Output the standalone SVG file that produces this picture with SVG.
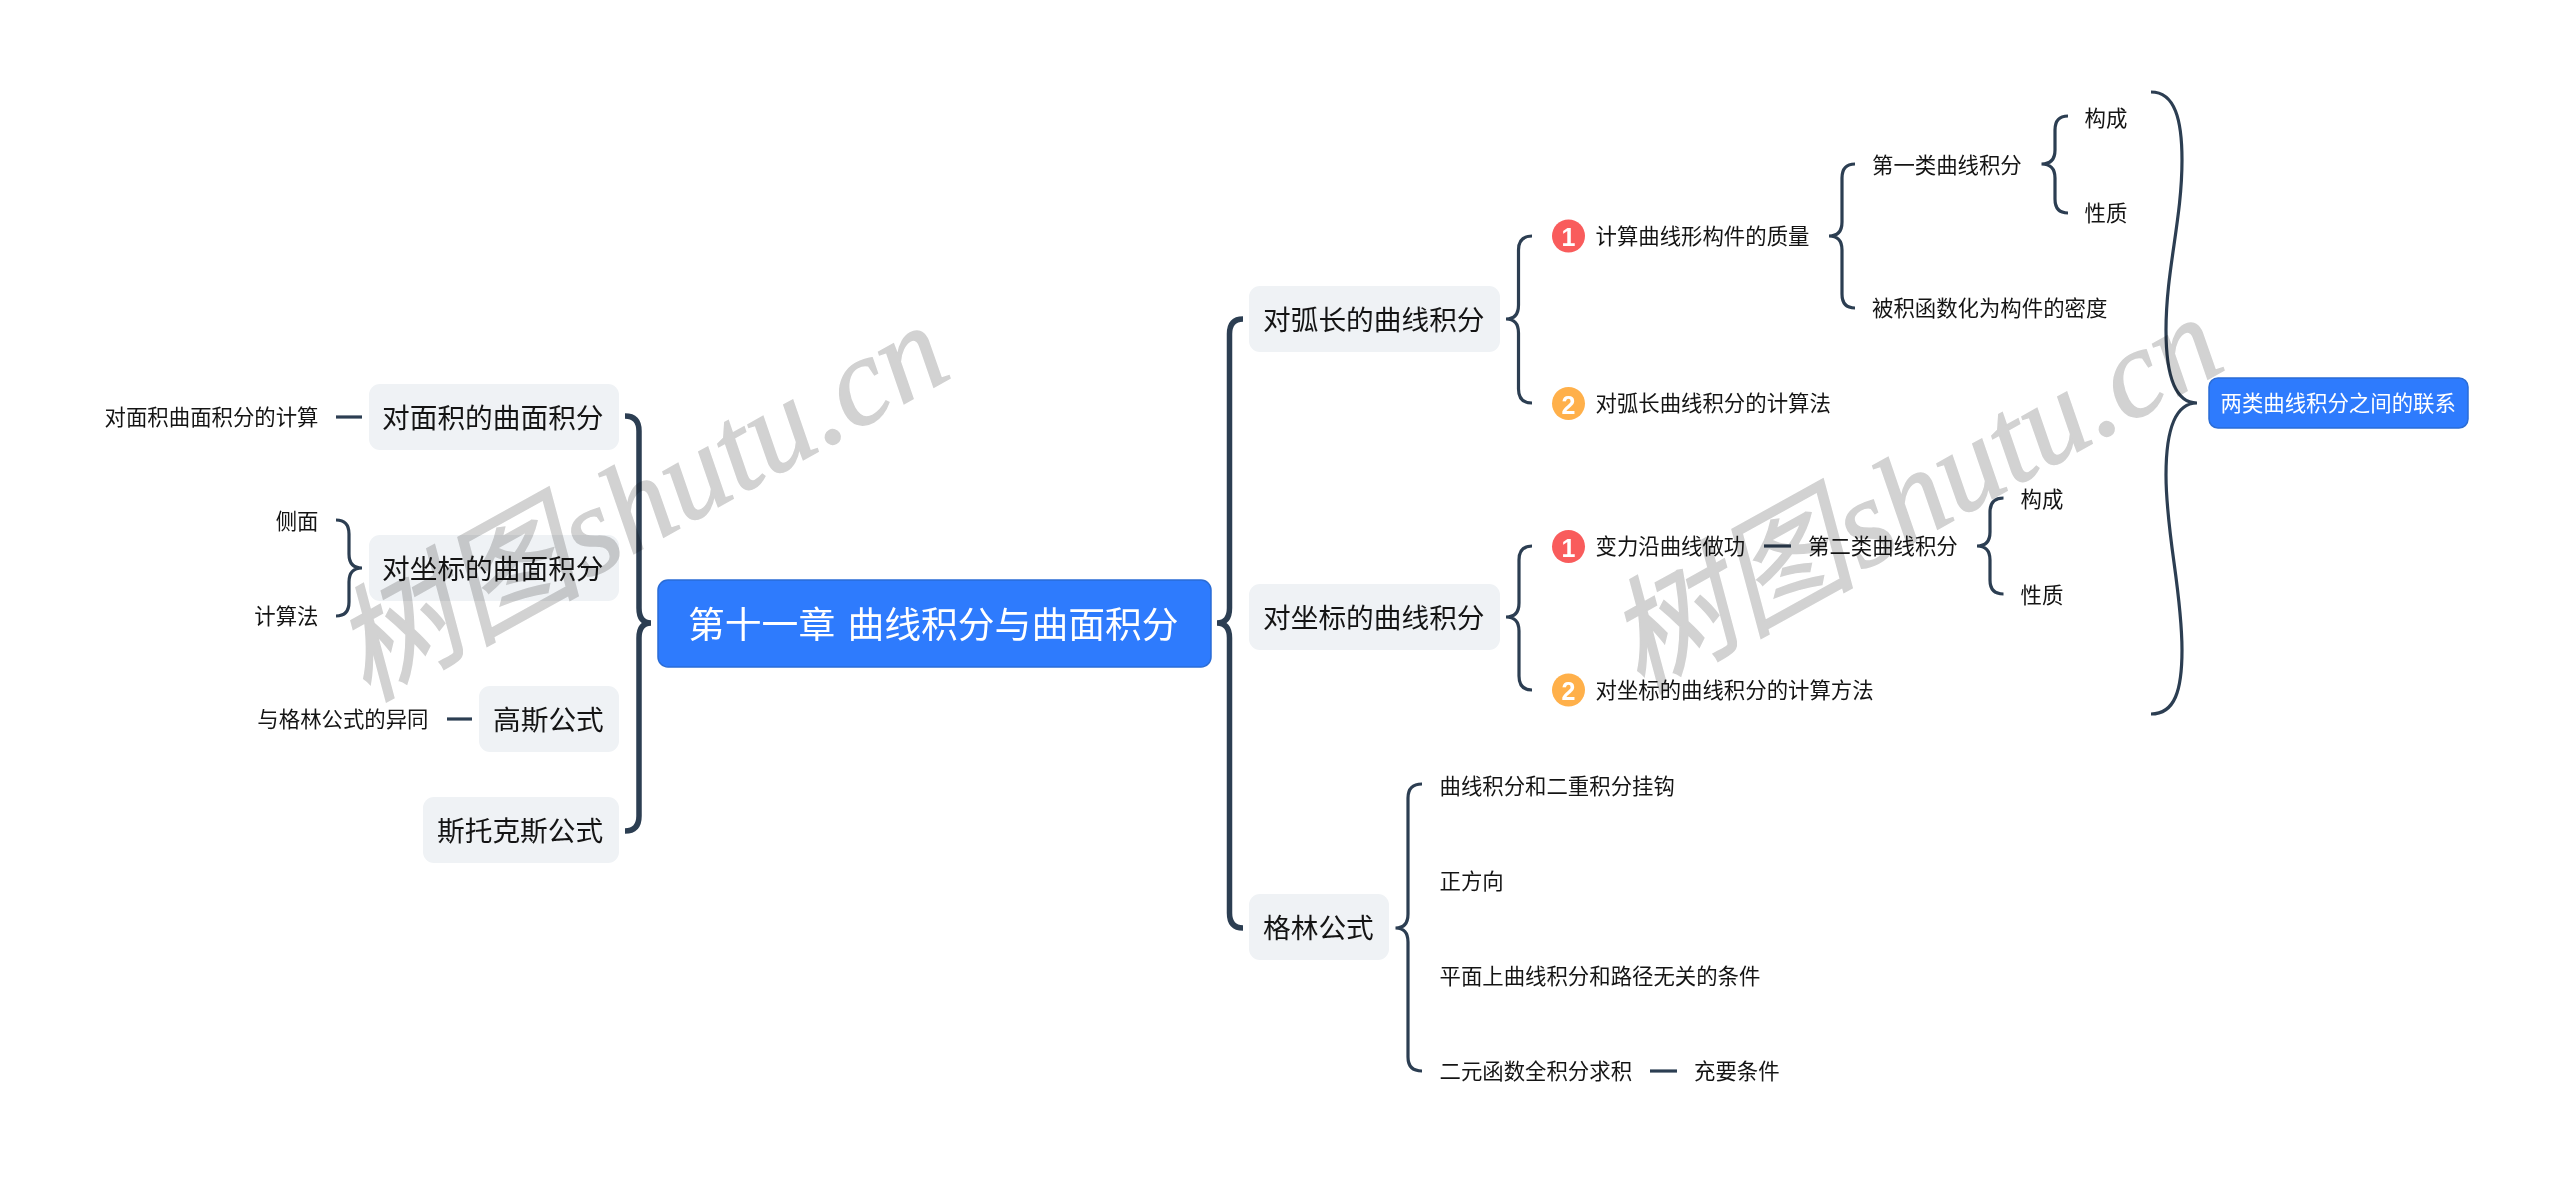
<svg xmlns="http://www.w3.org/2000/svg" width="2560" height="1187" viewBox="0 0 2560 1187">
<style>
text{font-family:"Noto Sans CJK SC","Noto Sans",sans-serif;fill:#141414;dominant-baseline:central;font-weight:400}
.s{font-size:21.4px;transform:translateY(-1.5px)}
.m{font-size:27.7px;transform:translateY(-1.5px)}
.r{font-size:36.8px;fill:#fff;word-spacing:4px;transform:translateY(-1.5px)}
.w{fill:#fff}
.e{text-anchor:end}
.n{fill:#eff2f5}
.b{fill:#2e7bfd;stroke:#2a6cd6;stroke-width:1.5}
.d{font-size:25px;font-weight:700;fill:#fff;text-anchor:middle;font-family:"Liberation Sans",sans-serif}
#connectors path{fill:none;stroke:#2c3e52;stroke-width:3.2;stroke-linecap:butt}
#connectors path.t{stroke-width:5.5}
.wm{font-family:"Liberation Serif","Noto Sans CJK SC",serif;font-size:125px;font-style:italic;fill:#d2d2d2;stroke:#d2d2d2;stroke-width:1.5;word-spacing:-28px;mix-blend-mode:multiply;dominant-baseline:alphabetic;font-weight:400}
</style>
<rect width="2560" height="1187" fill="#fff"/>
<g id="connectors">
<path class="t" d="M625 416Q639 416 639 431V608Q639 623 651 623Q639 623 639 638V816Q639 831 625 831"/>
<path class="t" d="M1243 319Q1229.500 319 1229.500 334V608Q1229.500 623 1217 623Q1229.500 623 1229.500 638V913Q1229.500 928 1243 928"/>
<path d="M336 417H362"/>
<path d="M336 520Q349 520 349 534V554Q349 568 362 568Q349 568 349 582V602Q349 616 336 616"/>
<path d="M447 719H472"/>
<path d="M1532 236Q1518.500 236 1518.500 250V305Q1518.500 319 1506 319Q1518.500 319 1518.500 333V389Q1518.500 403 1532 403"/>
<path d="M1855 164Q1842 164 1842 178V222Q1842 236 1829 236Q1842 236 1842 250V294Q1842 308 1855 308"/>
<path d="M2068 116Q2055 116 2055 130V150Q2055 164 2041.500 164Q2055 164 2055 178V199Q2055 213 2068 213"/>
<path d="M1532 546Q1519 546 1519 560V603Q1519 617 1506 617Q1519 617 1519 631V676Q1519 690 1532 690"/>
<path d="M1764 546H1791"/>
<path d="M2003.500 498Q1990 498 1990 512V532Q1990 546 1977 546Q1990 546 1990 560V580Q1990 594 2003.500 594"/>
<path d="M1422 784Q1408 784 1408 798V914Q1408 928 1395.500 928Q1408 928 1408 942V1057Q1408 1071 1422 1071"/>
<path d="M1650 1071H1677"/>
<path d="M2151 92C2175 92 2182 120 2182 160C2182 220 2166 270 2166 330C2166 375 2175 403 2197 403C2175 403 2166 430 2166 475C2166 535 2182 590 2182 650C2182 690 2175 714 2151 714"/>
</g>
<g id="root"><rect class="b" x="658" y="580" width="553" height="87" rx="10"/><text class="r" x="688" y="623">第十一章 曲线积分与曲面积分</text></g>
<g id="n-mj"><rect class="n" x="369" y="384" width="250" height="66" rx="11"/><text class="m" x="382" y="417">对面积的曲面积分</text></g>
<g id="n-zb"><rect class="n" x="369" y="535" width="250" height="66" rx="11"/><text class="m" x="382" y="568">对坐标的曲面积分</text></g>
<g id="n-gs"><rect class="n" x="479" y="686" width="140" height="66" rx="11"/><text class="m" x="493" y="719">高斯公式</text></g>
<g id="n-stk"><rect class="n" x="423" y="797" width="196" height="66" rx="11"/><text class="m" x="437" y="830">斯托克斯公式</text></g>
<g id="n-hc"><rect class="n" x="1249" y="286" width="251" height="66" rx="11"/><text class="m" x="1263" y="319">对弧长的曲线积分</text></g>
<g id="n-zq"><rect class="n" x="1249" y="584" width="251" height="66" rx="11"/><text class="m" x="1263" y="617">对坐标的曲线积分</text></g>
<g id="n-gl"><rect class="n" x="1249" y="894" width="140" height="66" rx="11"/><text class="m" x="1263" y="927">格林公式</text></g>
<g id="t-mjjs"><text class="s e" x="318.500" y="417">对面积曲面积分的计算</text></g>
<g id="t-cm"><text class="s e" x="318.500" y="521">侧面</text></g>
<g id="t-jsf"><text class="s e" x="318.500" y="616">计算法</text></g>
<g id="t-yt"><text class="s e" x="428.500" y="719">与格林公式的异同</text></g>
<g id="t-zl"><circle cx="1568.500" cy="236" r="16.500" fill="#f95c5c"/><text class="d" x="1568.500" y="237">1</text><text class="s" x="1595.500" y="236">计算曲线形构件的质量</text></g>
<g id="t-hcjs"><circle cx="1568.500" cy="403.500" r="16.500" fill="#ffb04a"/><text class="d" x="1568.500" y="404.500">2</text><text class="s" x="1595.500" y="403">对弧长曲线积分的计算法</text></g>
<g id="t-dyl"><text class="s" x="1872" y="165">第一类曲线积分</text></g>
<g id="t-bj"><text class="s" x="1872" y="308">被积函数化为构件的密度</text></g>
<g id="t-gc1"><text class="s" x="2084.500" y="118">构成</text></g>
<g id="t-xz1"><text class="s" x="2084.500" y="213">性质</text></g>
<g id="t-bl"><circle cx="1568.500" cy="546.500" r="16.500" fill="#f95c5c"/><text class="d" x="1568.500" y="547.500">1</text><text class="s" x="1595.500" y="546">变力沿曲线做功</text></g>
<g id="t-zbjs"><circle cx="1568.500" cy="690" r="16.500" fill="#ffb04a"/><text class="d" x="1568.500" y="691">2</text><text class="s" x="1595.500" y="690">对坐标的曲线积分的计算方法</text></g>
<g id="t-del"><text class="s" x="1808" y="546">第二类曲线积分</text></g>
<g id="t-gc2"><text class="s" x="2020.500" y="499">构成</text></g>
<g id="t-xz2"><text class="s" x="2020.500" y="595">性质</text></g>
<g id="t-gg"><text class="s" x="1439.500" y="786">曲线积分和二重积分挂钩</text></g>
<g id="t-zfx"><text class="s" x="1439.500" y="881">正方向</text></g>
<g id="t-wg"><text class="s" x="1439.500" y="976">平面上曲线积分和路径无关的条件</text></g>
<g id="t-qjf"><text class="s" x="1439.500" y="1071">二元函数全积分求积</text></g>
<g id="t-cy"><text class="s" x="1694" y="1071">充要条件</text></g>
<g id="n-lx"><rect class="b" x="2209" y="378" width="259" height="50" rx="9"/><text class="s w" x="2220.500" y="403">两类曲线积分之间的联系</text></g>
<g id="watermarks">
<text class="wm" transform="translate(366 702) rotate(-29)">树图 shutu.cn</text>
<text class="wm" transform="translate(1640 694) rotate(-29)">树图 shutu.cn</text>
</g>
</svg>
